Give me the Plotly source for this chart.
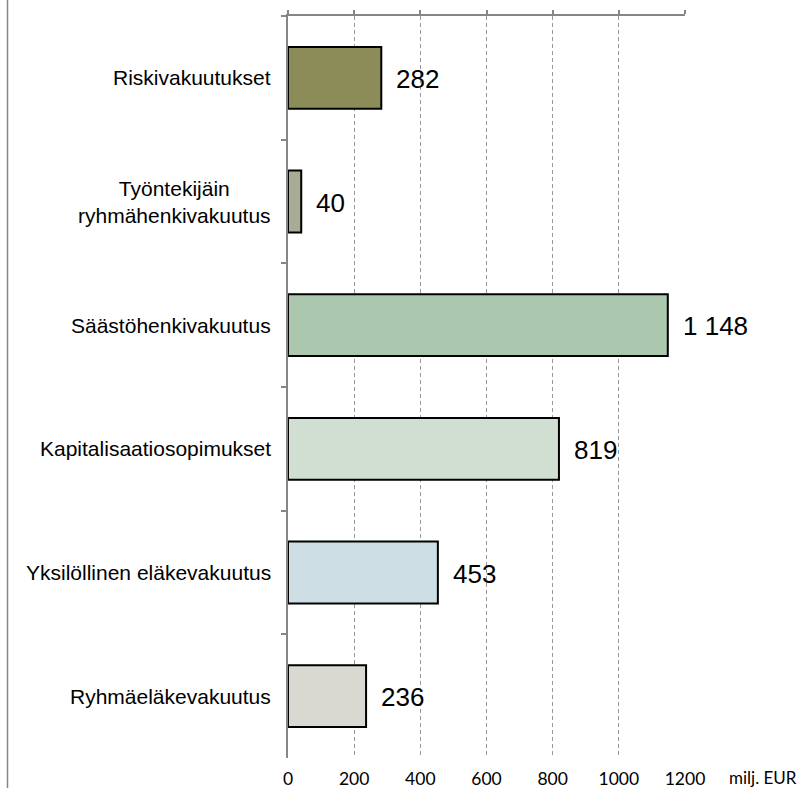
import plotly.graph_objects as go

categories = ["Riskivakuutukset", "Työntekijäin<br>ryhmähenkivakuutus", "Säästöhenkivakuutus",
              "Kapitalisaatiosopimukset", "Yksilöllinen eläkevakuutus", "Ryhmäeläkevakuutus"]
values = [282, 40, 1148, 819, 453, 236]
value_labels = ["282", "40", "1 148", "819", "453", "236"]
colors = ["#8B8C58", "#A9AC94", "#ABC8AF", "#D0DFD2", "#CDDFE5", "#D9D9D1"]
x_ticks = [0, 200, 400, 600, 800, 1000, 1200]
unit_label = "milj. EUR"

fig = go.Figure()
fig.add_trace(go.Bar(
    x=values, y=categories, orientation="h", width=0.5,
    marker=dict(color=colors, line=dict(color="black", width=2)),
    hoverinfo="skip", showlegend=False,
))
# invisible trace for top axis
fig.add_trace(go.Scatter(x=[0, 1200], y=[categories[0], categories[0]], xaxis="x2",
                         mode="markers", marker=dict(opacity=0), hoverinfo="skip", showlegend=False))

annotations = []
for c, v, t in zip(categories, values, value_labels):
    annotations.append(dict(x=v, y=c, xref="x", yref="y", text=t, showarrow=False,
                            xanchor="left", yanchor="middle", xshift=13, yshift=-1,
                            font=dict(family="Liberation Sans, Arial", size=26, color="black")))
    annotations.append(dict(x=0, y=c, xref="paper", yref="y", text=c, showarrow=False,
                            xanchor="right", yanchor="middle", align="center", xshift=-15,
                            font=dict(family="Liberation Sans, Arial", size=21, color="black")))
annotations.append(dict(x=1, y=0, xref="paper", yref="paper", text=unit_label, showarrow=False,
                        xanchor="left", yanchor="middle", xshift=42, yshift=-19,
                        font=dict(family="Lato", size=17, color="black")))

fig.update_layout(
    width=809, height=788,
    margin=dict(l=288, r=124, t=16, b=30),
    paper_bgcolor="white", plot_bgcolor="white",
    xaxis=dict(range=[0, 1200], tickvals=x_ticks, showgrid=True, gridcolor="#999999",
               griddash="4px,3px", gridwidth=1, showline=False, ticks="", zeroline=False,
               automargin=False,
               tickfont=dict(family="Lato", size=17.5, color="black"), ticklabelstandoff=8),
    xaxis2=dict(range=[0, 1200], overlaying="x", side="top", tickvals=x_ticks,
                showticklabels=False, showgrid=False, showline=True, linecolor="#868686",
                linewidth=2, ticks="outside", ticklen=4, tickcolor="#868686", tickwidth=2,
                zeroline=False, automargin=False),
    yaxis=dict(categoryorder="array", categoryarray=categories, autorange="reversed",
               showticklabels=False, showgrid=False, showline=True, linecolor="#868686",
               linewidth=2, ticks="outside", tickson="boundaries", ticklen=5,
               tickcolor="#868686", tickwidth=2, zeroline=False, automargin=False),
    annotations=annotations,
    shapes=[dict(type="line", xref="paper", yref="paper", x0=(7.5 - 288) / 397, x1=(7.5 - 288) / 397,
                 y0=-0.06, y1=1.03, line=dict(color="#868686", width=1.5))],
)
fig.write_html("out.html", config={"displayModeBar": False},
               post_script="document.body.style.margin='0';")
